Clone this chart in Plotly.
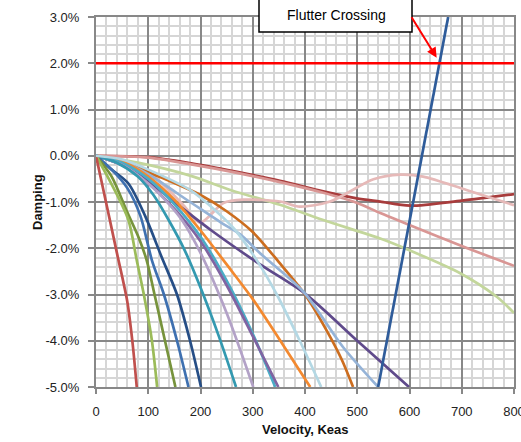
import plotly.graph_objects as go

# ---- data (velocity in KEAS, damping in %) ----
red_x = [0, 20, 40, 60, 70, 78]
red_y = [0, -1.05, -2.1, -3.16, -4.05, -5.0]

lgreen_x = [0, 30, 62, 78, 91, 107, 117]
lgreen_y = [0, -0.62, -1.39, -2.26, -2.97, -4.0, -5.0]

olive_x = [0, 30, 59, 81, 97, 112, 132, 152]
olive_y = [0, -0.45, -1.2, -1.75, -2.26, -3.0, -4.0, -5.0]

blue_x = [0, 30, 60, 85, 107, 130, 155, 177]
blue_y = [0, -0.3, -0.7, -1.3, -2.26, -3.0, -4.0, -5.0]

navy_x = [0, 30, 62, 94, 126, 155, 180, 201]
navy_y = [0, -0.3, -0.6, -1.3, -2.2, -3.0, -4.0, -5.0]

teal_x = [0, 40, 80, 110, 139, 170, 200, 235, 268]
teal_y = [0, -0.15, -0.45, -0.85, -1.39, -2.05, -2.85, -3.9, -5.0]

lav_x = [0, 50, 100, 140, 165, 200, 250, 301]
lav_y = [0, -0.2, -0.6, -1.05, -1.4, -2.1, -3.4, -5.0]

teal2_x = [0, 50, 100, 150, 200, 250, 300, 343]
teal2_y = [0, -0.15, -0.5, -1.05, -1.75, -2.7, -3.85, -5.0]

purple_x = [0, 50, 100, 150, 200, 250, 300, 349]
purple_y = [0, -0.2, -0.6, -1.15, -1.85, -2.8, -3.9, -5.0]

orange_x = [0, 50, 100, 150, 199, 250, 300, 350, 410]
orange_y = [0, -0.12, -0.45, -0.95, -1.6, -2.35, -3.1, -3.95, -5.0]

ltblue_x = [0, 50, 100, 180, 230, 266, 310, 346, 390, 431]
ltblue_y = [0, -0.08, -0.3, -0.74, -1.2, -1.6, -2.3, -3.0, -4.0, -5.0]

peri_x = [0, 50, 100, 180, 240, 276, 314, 397, 473, 540]
peri_y = [0, -0.12, -0.4, -1.0, -1.45, -1.7, -2.11, -2.94, -4.14, -5.0]

dpurple_x = [0, 50, 100, 150, 219, 314, 400, 500, 599]
dpurple_y = [0, -0.2, -0.55, -1.0, -1.6, -2.35, -2.98, -4.0, -5.0]

brown_x = [0, 50, 100, 200, 250, 300, 350, 400, 441, 470, 492]
brown_y = [0, -0.1, -0.35, -0.85, -1.2, -1.65, -2.3, -3.0, -3.77, -4.4, -5.0]

lgreen2_x = [0, 80, 180, 260, 352, 435, 544, 595, 697, 767, 800]
lgreen2_y = [0, -0.15, -0.43, -0.75, -1.06, -1.39, -1.79, -2.02, -2.54, -3.05, -3.4]

dred_x = [0, 100, 180, 270, 352, 435, 499, 544, 601, 700, 800]
dred_y = [0, -0.03, -0.16, -0.35, -0.54, -0.77, -0.92, -0.99, -1.08, -0.97, -0.83]

rose_x = [0, 100, 180, 270, 352, 435, 500, 544, 601, 700, 800]
rose_y = [0, -0.04, -0.18, -0.37, -0.57, -0.8, -1.02, -1.24, -1.5, -1.95, -2.38]

pink_x = [0, 50, 100, 140, 170, 199, 244, 282, 352, 390, 448, 531, 582, 626, 709, 800]
pink_y = [0, -0.1, -0.35, -0.75, -1.1, -1.45, -1.02, -0.95, -0.99, -1.1, -0.99, -0.51, -0.41, -0.45, -0.74, -1.07]

flutter_x = [540, 674]
flutter_y = [-5.0, 3.0]

limit_x = [0, 800]
limit_y = [2.0, 2.0]

y_tick_vals = [-5, -4, -3, -2, -1, 0, 1, 2, 3]
y_tick_text = ["-5.0%", "-4.0%", "-3.0%", "-2.0%", "-1.0%", "0.0%", "1.0%", "2.0%", "3.0%"]

series = [
    (lgreen2_x, lgreen2_y, "#C3D69B"),
    (dred_x, dred_y, "#A83C3C"),
    (rose_x, rose_y, "#D99694"),
    (pink_x, pink_y, "#E6B9B8"),
    (brown_x, brown_y, "#CC6D1F"),
    (dpurple_x, dpurple_y, "#5F4A8B"),
    (peri_x, peri_y, "#95B3D7"),
    (orange_x, orange_y, "#F3892F"),
    (teal2_x, teal2_y, "#4BACC6"),
    (purple_x, purple_y, "#8064A2"),
    (lav_x, lav_y, "#B3A2C7"),
    (teal_x, teal_y, "#3399B0"),
    (navy_x, navy_y, "#264E86"),
    (blue_x, blue_y, "#3E70B0"),
    (olive_x, olive_y, "#77933C"),
    (lgreen_x, lgreen_y, "#9BBB59"),
    (red_x, red_y, "#C0504D"),
    (ltblue_x, ltblue_y, "#B4D8E4"),
]

fig = go.Figure()
for xs, ys, col in series:
    fig.add_trace(go.Scatter(x=xs, y=ys, mode="lines",
                             line=dict(color=col, width=2.7, shape="spline", smoothing=0.8),
                             hoverinfo="skip", showlegend=False))

fig.add_trace(go.Scatter(x=flutter_x, y=flutter_y, mode="lines",
                         line=dict(color="#2F5C9A", width=2.7), showlegend=False))
fig.add_trace(go.Scatter(x=limit_x, y=limit_y, mode="lines",
                         line=dict(color="#FF0000", width=2.7), showlegend=False))

W, H = 521, 442
L, R, T, B = 96, 7, 17, 55
pw, ph = W - L - R, H - T - B

major = "#888888"
minor = "#D6D6D6"
font = "Liberation Sans"

fig.update_layout(
    width=W, height=H,
    margin=dict(l=L, r=R, t=T, b=B, autoexpand=False),
    paper_bgcolor="white", plot_bgcolor="white",
    showlegend=False,
    font=dict(family=font, size=13, color="#222222"),
    xaxis=dict(range=[0, 800], tick0=0, dtick=100, showgrid=True, gridcolor=major, gridwidth=2,
               minor=dict(dtick=20, showgrid=True, gridcolor=minor, gridwidth=1.5),
               zeroline=False, showline=True, mirror=True, linecolor=major, linewidth=2,
               ticks="outside", ticklen=5, tickcolor=major, tickwidth=1.5,
               ticklabelstandoff=6, ticklabeloverflow="allow", tickfont=dict(size=13)),
    yaxis=dict(range=[-5, 3], tickmode="array", tickvals=y_tick_vals, ticktext=y_tick_text,
               showgrid=True, gridcolor=major, gridwidth=2,
               minor=dict(dtick=0.2, tick0=0, showgrid=True, gridcolor=minor, gridwidth=1.5),
               zeroline=False, showline=True, mirror=True, linecolor=major, linewidth=2,
               ticks="outside", ticklen=6, tickcolor=major, tickwidth=1.5,
               ticklabelstandoff=6, tickfont=dict(size=13)),
)

# text box
fig.add_shape(type="rect", xref="paper", yref="paper",
              x0=(259 - L) / pw, x1=(412 - L) / pw,
              y0=(H - B - 32) / ph, y1=(H - B + 2) / ph,
              line=dict(color="black", width=1.5), fillcolor="white", layer="above")
fig.add_annotation(xref="paper", yref="paper", x=(336 - L) / pw, y=(H - B - 15) / ph,
                   xanchor="center", yanchor="middle",
                   text="Flutter Crossing", showarrow=False,
                   font=dict(family=font, size=14, color="black"))
# arrow
fig.add_annotation(x=652, y=2.12, xref="x", yref="y", text="", showarrow=True,
                   ax=-26, ay=-42, arrowcolor="#FF0000", arrowwidth=2, arrowhead=2, arrowsize=1)

# axis titles
fig.add_annotation(xref="paper", yref="paper", x=0.5, y=-(429 - (H - B)) / ph,
                   xanchor="center", yanchor="middle",
                   text="<b>Velocity, Keas</b>", showarrow=False,
                   font=dict(family=font, size=13, color="#111111"))
fig.add_annotation(xref="paper", yref="paper", x=(37 - L) / pw, y=0.5,
                   xanchor="center", yanchor="middle",
                   text="<b>Damping</b>", showarrow=False, textangle=-90,
                   font=dict(family=font, size=13, color="#111111"))

fig.write_html("out.html")
